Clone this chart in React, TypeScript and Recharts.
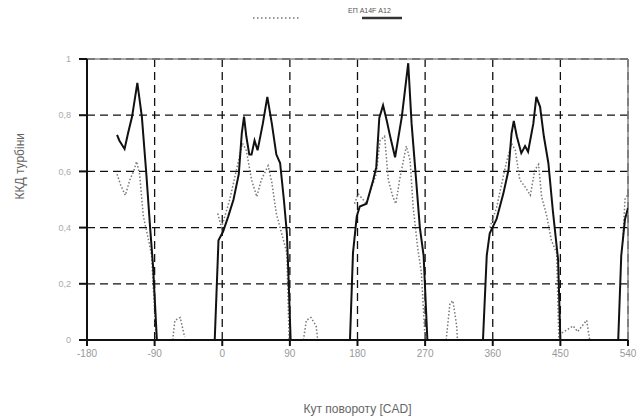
import { LineChart, Line, XAxis, YAxis, CartesianGrid, ReferenceLine } from "recharts";

// crank angle ticks and efficiency ticks
const angleTicks = [-180, -90, 0, 90, 180, 270, 360, 450, 540];
const effTicks = [0, 0.2, 0.4, 0.6, 0.8, 1];

// solid series (null = break in the line)
const solidAngle = [
  -140, -137, -130, -125, -120, -113, -107, -101, -96, -92, -87, -50,
  -10, -5, 1, 8, 15, 22, 26, 29, 32, 36, 39, 43, 47, 54, 60, 66, 72, 77, 82, 86, 88, 91, 130,
  170, 174, 179, 183, 192, 201, 205, 209, 214, 219, 223, 230, 239, 247.5, 252, 258, 263, 268, 273, 310,
  347, 352, 356, 365, 374, 381, 385, 388, 392, 398, 403, 407, 414, 418, 423, 428, 434, 440, 447, 450, 490,
  527, 531, 536, 540,
];
const solidEff = [
  0.73, 0.71, 0.68, 0.74, 0.795, 0.915, 0.795, 0.59, 0.4, 0.26, 0, null,
  0, 0.355, 0.385, 0.44, 0.5, 0.59, 0.735, 0.795, 0.725, 0.66, 0.66, 0.71, 0.675, 0.77, 0.865, 0.77, 0.66, 0.63, 0.5, 0.38, 0.24, 0, null,
  0, 0.31, 0.44, 0.475, 0.485, 0.57, 0.615, 0.79, 0.835, 0.78, 0.73, 0.65, 0.795, 0.985, 0.77, 0.57, 0.4, 0.3, 0, null,
  0, 0.3, 0.38, 0.43, 0.52, 0.605, 0.735, 0.78, 0.725, 0.665, 0.69, 0.67, 0.77, 0.865, 0.83, 0.725, 0.63, 0.46, 0.285, 0, null,
  0, 0.3, 0.43, 0.47,
];

// dotted series
const dottedAngle = [
  -140, -135, -129, -123, -118, -114, -110, -105, -98, -94, -91, -88, -77,
  -66, -63, -56, -50, -30,
  -6, -1, 10, 21, 27, 32, 39, 46, 52, 61, 66, 72, 79, 86, 89, 100,
  108, 112, 118, 125, 127, 150,
  176, 181, 192, 199, 205, 210, 216, 221, 227, 231, 236, 245, 250, 254, 260, 265, 270, 285,
  298, 303, 307, 312, 313, 330,
  356, 365, 378, 385, 390, 396, 403, 410, 416, 421, 425, 432, 438, 445, 448, 450,
  452, 458, 467, 473, 485, 489, 510,
  533, 536, 540,
];
const dottedEff = [
  0.59, 0.55, 0.515, 0.57, 0.6, 0.635, 0.59, 0.44, 0.355, 0.3, 0.15, 0, null,
  0, 0.07, 0.08, 0.01, null,
  0.45, 0.4, 0.5, 0.63, 0.7, 0.675, 0.57, 0.51, 0.57, 0.62, 0.56, 0.45, 0.38, 0.31, 0, null,
  0, 0.07, 0.08, 0.05, 0, null,
  0.485, 0.52, 0.485, 0.545, 0.59, 0.71, 0.725, 0.57, 0.51, 0.485, 0.57, 0.69, 0.64, 0.475, 0.33, 0.24, 0, null,
  0, 0.13, 0.14, 0.05, 0, null,
  0.4, 0.47, 0.63, 0.7, 0.675, 0.57, 0.545, 0.515, 0.605, 0.625, 0.51, 0.44, 0.355, 0.31, 0, null,
  0.025, 0.035, 0.05, 0.03, 0.07, 0, null,
  0.35, 0.5, 0.52,
];

const solidData = solidAngle.map((x, i) => ({ x, y: solidEff[i] }));
const dottedData = dottedAngle.map((x, i) => ({ x, y: dottedEff[i] }));

const font = "'Liberation Sans', Arial, sans-serif";
const fmtY = (v: number) => (v === 0 || v === 1 ? String(v) : v.toFixed(1).replace(".", ","));

export default function App() {
  return (
    <div style={{ position: "absolute", left: 0, top: 0, width: 643, height: 419, background: "#fff" }}>
      <LineChart
        width={643}
        height={419}
        margin={{ top: 59, right: 15, bottom: 49, left: 0 }}
        style={{ fontFamily: font }}
      >
        <CartesianGrid stroke="#111" strokeDasharray="8 5" strokeWidth={1.3} />
        <XAxis
          type="number"
          dataKey="x"
          domain={[-180, 540]}
          ticks={angleTicks}
          allowDataOverflow
          height={30}
          stroke="#111"
          strokeWidth={2}
          tickSize={6}
          tickMargin={4}
          tick={{ fill: "#999", fontSize: 10 }}
          label={{ value: "Кут повороту [CAD]", position: "insideBottom", offset: -43, fill: "#666", fontSize: 12 }}
        />
        <YAxis
          type="number"
          dataKey="y"
          domain={[0, 1]}
          ticks={effTicks}
          width={87}
          stroke="#111"
          strokeWidth={2}
          tickSize={8}
          tickMargin={8}
          tickFormatter={fmtY}
          tick={{ fill: "#aaa", fontSize: 9 }}
          label={{ value: "ККД турбіни", angle: -90, position: "insideLeft", offset: 20, fill: "#666", fontSize: 12 }}
        />
        <ReferenceLine y={1} stroke="#888" strokeWidth={1.5} />
        <ReferenceLine x={540} stroke="#888" strokeWidth={1.5} />
        <Line
          data={dottedData}
          dataKey="y"
          stroke="#777"
          strokeWidth={1.5}
          strokeDasharray="1.5 2"
          dot={false}
          isAnimationActive={false}
        />
        <Line
          data={solidData}
          dataKey="y"
          stroke="#111"
          strokeWidth={2}
          dot={false}
          isAnimationActive={false}
        />
      </LineChart>
      <svg width={643} height={30} style={{ position: "absolute", left: 0, top: 0, pointerEvents: "none" }}>
        <line x1={253} x2={300} y1={18} y2={18} stroke="#777" strokeWidth={1.5} strokeDasharray="1.5 2.5" />
        <text x={348} y={13} fontSize={7} fill="#555" fontFamily={font}>ЕП А14F А12</text>
        <line x1={362} x2={402} y1={18} y2={18} stroke="#333" strokeWidth={2.5} />
      </svg>
    </div>
  );
}
